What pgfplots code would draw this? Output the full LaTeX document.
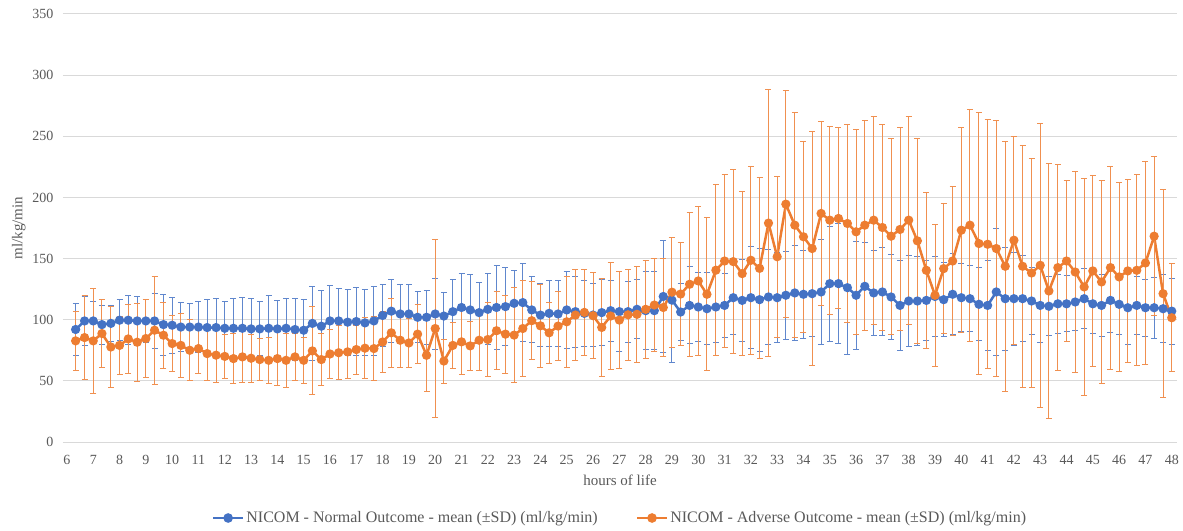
\documentclass[border=0pt]{standalone}
\usepackage{fontspec}
\setmainfont{Liberation Serif}
\usepackage{pgfplots}
\usepackage{pgfplotstable}
\pgfplotsset{compat=1.18}
\definecolor{nblue}{HTML}{4472C4}
\definecolor{norange}{HTML}{ED7D31}
\definecolor{tgrey}{HTML}{595959}
\definecolor{ggrey}{HTML}{D9D9D9}

\pgfplotstableread{
x mean sd
6.33 92 21
6.67 99 20
7.00 99 16
7.33 96 16
7.67 97 15
8.00 99.6 17
8.33 99.6 20
8.67 99 20
9.00 99 17.5
9.33 99 22.5
9.67 96 25
10.00 95.5 23
10.33 94 20
10.67 94 19
11.00 94 21
11.33 93.6 23
11.67 93.6 24
12.00 93 22
12.33 93 24
12.67 93 25
13.00 92.5 25
13.33 92.5 22
13.67 93 27
14.00 92.5 23
14.33 93 24
14.67 92 25
15.00 91.4 25
15.33 97 30
15.67 94.7 29
16.00 99 29
16.33 99 26.5
16.67 98 27
17.00 98.5 28
17.33 97.4 27
17.67 99 28
18.00 103.5 25
18.33 107 26
18.67 104.7 24
19.00 104.7 24
19.33 102 21
19.67 102 22
20.00 104.7 29
20.33 103 19
20.67 106.6 26
21.00 110 28
21.33 108 29
21.67 105.8 25
22.00 108.5 29
22.33 110 34
22.67 110.7 32
23.00 113.4 27
23.33 114 32
23.67 108 27
24.00 103.8 26
24.33 105.2 27
24.67 104.7 27
25.00 108 31.5
25.33 106.6 29
25.67 105.2 27
26.00 103.8 26
26.33 105.8 27
26.67 107.4 25
27.00 106.6 33
27.33 106.6 25
27.67 108.5 24
28.00 107.4 32
28.33 107.4 32
28.67 119 46
29.00 116 51
29.33 106.3 23.5
29.67 111.7 31.5
30.00 110.4 28
30.33 109 29.5
30.67 110.4 29
31.00 111.7 26
31.33 118 30
31.67 115.8 33.5
32.00 118 41.5
32.33 116.4 42
32.67 118.6 39
33.00 118 37
33.33 120 36
33.67 121.9 39
34.00 120.8 36
34.33 121.3 35
34.67 122.7 43
35.00 129.5 47
35.33 129.5 49
35.67 126.2 55
36.00 120 44
36.33 127.3 36
36.67 121.9 35
37.00 122.7 36
37.33 118.6 35
37.67 111.7 37
38.00 115.3 37
38.33 115.3 36
38.67 115.8 33
39.00 119 33
39.33 116.4 30
39.67 120.8 33
40.00 118 28
40.33 117.2 27
40.67 112.6 30
41.00 111.7 37
41.33 122.7 52
41.67 117.2 42
42.00 117.2 38
42.33 117.2 35
42.67 115.3 27
43.00 111.7 30
43.33 111 24
43.67 113 24
44.00 113 23
44.33 114.5 23.5
44.67 117.2 24.6
45.00 113 24
45.33 111.7 25.5
45.67 115.8 26
46.00 112.6 25
46.33 109.8 30
46.67 111.7 23.5
47.00 109.8 23.4
47.33 109.8 25
47.67 109 27.7
48.00 107 27
}\normaltab

\pgfplotstableread{
x mean sd
6.33 82.7 24
6.67 85.4 34
7.00 82.7 43
7.33 88.7 28
7.67 77.7 33
8.00 79 24
8.33 84.3 28
8.67 81.6 32
9.00 84.6 32
9.33 91.4 44
9.67 87.3 27
10.00 80.5 23
10.33 79 26
10.67 75 25
11.00 76.4 20
11.33 72.3 22
11.67 71 22
12.00 70 18
12.33 68.2 20.5
12.67 69.6 20.6
13.00 68.5 19.5
13.33 67.4 17
13.67 66.8 19
14.00 68.2 22
14.33 66.8 22
14.67 69.6 19
15.00 66.8 19
15.33 74.5 36
15.67 67.4 21
16.00 72 20
16.33 73 22
16.67 73.7 22
17.00 75.6 20
17.33 76.7 25
17.67 76.4 26
18.00 81.8 25
18.33 89.3 28
18.67 83.2 22
19.00 81 20
19.33 88.2 24
19.67 70.9 29.5
20.00 92.8 73
20.33 66.2 18
20.67 79 19
21.00 81.9 27
21.33 78.6 20
21.67 83.2 25
22.00 83.8 30
22.33 91 32
22.67 88.2 32
23.00 87.4 39
23.33 92.8 39
23.67 99.2 32
24.00 95 34
24.33 89.3 25
24.67 94.8 28
25.00 98.3 37
25.33 103.8 37
25.67 106 35
26.00 103.3 35
26.33 93.7 40
26.67 103 44
27.00 99.7 40
27.33 104 37
27.67 104.4 39
28.00 108.5 40
28.33 112 38
28.67 110 40
29.00 122.5 45
29.33 121 42
29.67 129 59
30.00 131.7 61
30.33 120.8 62.5
30.67 140.5 70
31.00 148 71
31.33 147.5 75
31.67 137.7 67
32.00 148.6 77
32.33 142 74
32.67 179 109
33.00 151.5 66
33.33 194.5 93
33.67 177.3 92
34.00 167.8 78
34.33 158.2 96
34.67 186.9 75
35.00 181.4 77
35.33 182.8 74
35.67 178.7 81
36.00 171.9 84
36.33 177.3 86
36.67 181.4 85
37.00 175.4 84
37.33 168.3 80
37.67 173.8 83
38.00 181.4 85
38.33 164.5 84
38.67 140.4 64
39.00 120 58
39.33 141.8 53
39.67 148 61
40.00 173.2 84
40.33 177.3 95
40.67 162.3 107
41.00 161.7 102
41.33 158.2 105
41.67 143.7 102
42.00 165 85
42.33 143.7 99
42.67 138.2 94
43.00 144.5 116
43.33 123.5 104
43.67 142.6 84
44.00 148 66
44.33 139 82
44.67 126.8 89
45.00 139.9 78
45.33 130.9 83
45.67 142.6 83
46.00 135 77
46.33 139.9 75
46.67 140.4 78
47.00 146.4 83
47.33 168.3 65
47.67 121.3 85
48.00 101.6 44
}\adversetab

\begin{document}
\begin{tikzpicture}
\begin{axis}[
  scale only axis,
  width=1114pt, height=428pt,
  xmin=5.85, xmax=48.2,
  ymin=0, ymax=350,
  xtick={6,...,48},
  ytick={0,50,...,350},
  ymajorgrids,
  grid style={draw=ggrey, line width=1pt},
  axis line style={draw=none},
  major tick length=0pt,
  tick label style={font=\fontsize{14}{16}\selectfont, text=tgrey},
  /pgf/number format/assume math mode=true,
  yticklabel style={xshift=-6pt},
  xticklabel style={anchor=center, yshift=-18pt},
  xlabel={hours of life},
  ylabel={ml/kg/min},
  label style={font=\fontsize{15}{17}\selectfont, text=tgrey},
  xlabel style={at={(axis description cs:0.5,0)}, anchor=center, yshift=-38pt},
  ylabel style={yshift=0pt},
  legend style={at={(0.5,-0.1776)}, anchor=center, draw=none, fill=none,
    legend columns=2, font=\fontsize{16}{18}\selectfont, text=tgrey,
    /tikz/every even column/.append style={column sep=36pt}},
  legend image code/.code={
    \draw[line width=2.5pt,#1] (0pt,0pt) -- (30pt,0pt);
    \draw[#1, mark=*, mark size=3.5pt, mark repeat=1] plot coordinates {(15pt,0pt)};
  },
  legend cell align=left,
]
\addplot[color=nblue, line width=2.5pt, mark=*, mark size=3.3pt,
  mark options={fill=nblue, draw=nblue},
  error bars/.cd, y dir=both, y explicit,
  error mark options={rotate=90, mark size=3pt, line width=1pt, draw=nblue!85},
  error bar style={line width=1pt, draw=nblue!85}]
  table[x=x, y=mean, y error=sd] {\normaltab};
\addlegendentry{NICOM - Normal Outcome - mean (±SD) (ml/kg/min)}
\addplot[color=norange, line width=2.5pt, mark=*, mark size=3.3pt,
  mark options={fill=norange, draw=norange},
  error bars/.cd, y dir=both, y explicit,
  error mark options={rotate=90, mark size=3pt, line width=1pt, draw=norange!85},
  error bar style={line width=1pt, draw=norange!85}]
  table[x=x, y=mean, y error=sd] {\adversetab};
\addlegendentry{NICOM - Adverse Outcome - mean (±SD) (ml/kg/min)}
\end{axis}
\pgfresetboundingbox
\path (current axis.south west) ++(-63pt,-88pt) rectangle ++(1183pt,530pt);
\end{tikzpicture}
\end{document}
